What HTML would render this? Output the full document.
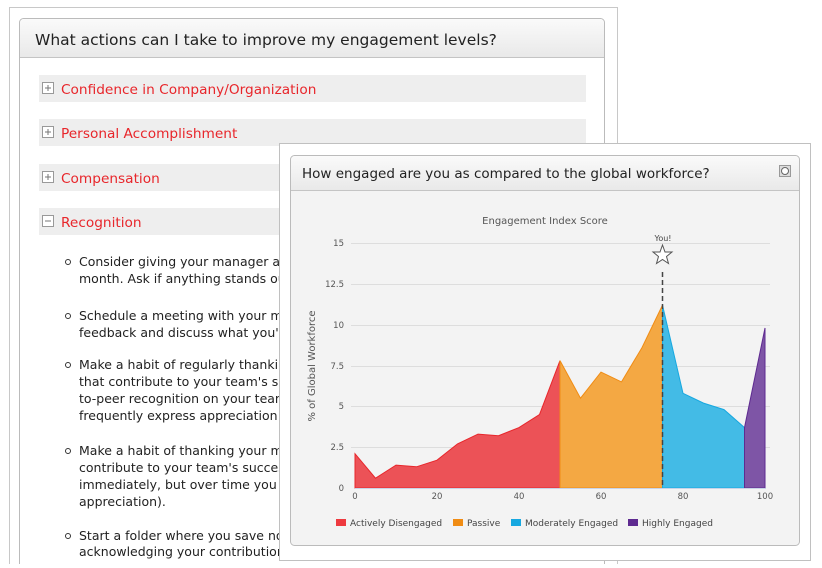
<!DOCTYPE html>
<html><head><meta charset="utf-8"><style>
body{margin:0;width:822px;height:564px;overflow:hidden;background:#fff;font-family:"DejaVu Sans","Liberation Sans",sans-serif;}
</style></head><body>
<svg width="822" height="564" xmlns="http://www.w3.org/2000/svg" font-family="DejaVu Sans, Liberation Sans, sans-serif">
<defs>
<linearGradient id="hg" x1="0" y1="0" x2="0" y2="1"><stop offset="0" stop-color="#fafafa"/><stop offset="1" stop-color="#e9e9e9"/></linearGradient>
</defs>
<!-- back panel -->
<rect x="9.5" y="7.5" width="608" height="560" fill="#fff" stroke="#c8c8c8"/>
<rect x="19.5" y="18.5" width="585" height="560" rx="4" fill="#fff" stroke="#bbb"/>
<path d="M20 57 V23 a4 4 0 0 1 4-4 H600 a4 4 0 0 1 4 4 V57Z" fill="url(#hg)"/>
<line x1="20" y1="57.5" x2="604" y2="57.5" stroke="#c4c4c4"/>
<text x="35" y="45" font-size="15.5" fill="#222">What actions can I take to improve my engagement levels?</text>
<g font-size="13.7" fill="#e8262b">
<rect x="39" y="75" width="547" height="27" fill="#eee"/>
<rect x="39" y="119" width="547" height="27" fill="#eee"/>
<rect x="39" y="164" width="547" height="27" fill="#eee"/>
<rect x="39" y="208" width="547" height="27" fill="#eee"/>
<text x="61" y="94">Confidence in Company/Organization</text>
<text x="61" y="138">Personal Accomplishment</text>
<text x="61" y="183">Compensation</text>
<text x="61" y="227">Recognition</text>
</g>
<g fill="#fff" stroke="#999">
<rect x="42.5" y="82.5" width="11" height="11"/><rect x="42.5" y="126.5" width="11" height="11"/><rect x="42.5" y="171.5" width="11" height="11"/><rect x="42.5" y="215.5" width="11" height="11"/>
</g>
<g stroke="#777"><path d="M45 88h6M48 85v6M45 132h6M48 129v6M45 177h6M48 174v6M45 221h6"/></g>
<g font-size="12.5" fill="#222">
<text x="79" y="266">Consider giving your manager a s</text><text x="79" y="283">month. Ask if anything stands out</text>
<text x="79" y="320">Schedule a meeting with your ma</text><text x="79" y="337">feedback and discuss what you're</text>
<text x="79" y="369">Make a habit of regularly thanking</text><text x="79" y="386">that contribute to your team's suc</text><text x="79" y="403">to-peer recognition on your team</text><text x="79" y="420">frequently express appreciation fo</text>
<text x="79" y="455">Make a habit of thanking your ma</text><text x="79" y="472">contribute to your team's success</text><text x="79" y="489">immediately, but over time you c</text><text x="79" y="506">appreciation).</text>
<text x="79" y="540">Start a folder where you save not</text><text x="79" y="556">acknowledging your contributions</text>
</g>
<g fill="none" stroke="#333"><circle cx="68" cy="262" r="2.5"/><circle cx="68" cy="316" r="2.5"/><circle cx="68" cy="365" r="2.5"/><circle cx="68" cy="451" r="2.5"/><circle cx="68" cy="536" r="2.5"/></g>
<!-- front panel -->
<rect x="279.5" y="143.5" width="531" height="417" fill="#fff" stroke="#c0c0c0"/>
<rect x="290.5" y="155.5" width="509" height="390" rx="4" fill="#f3f3f3" stroke="#bbb"/>
<path d="M291 190 V160 a4 4 0 0 1 4-4 H795 a4 4 0 0 1 4 4 V190Z" fill="url(#hg)"/>
<line x1="291" y1="190.5" x2="799" y2="190.5" stroke="#c4c4c4"/>
<text x="302" y="178" font-size="13.5" fill="#222">How engaged are you as compared to the global workforce?</text>
<rect x="779.5" y="165.5" width="11" height="11" fill="#ddd" stroke="#999"/><circle cx="785" cy="171" r="3.5" fill="#fff" stroke="#666"/>
<text x="545" y="224" font-size="10" fill="#555" text-anchor="middle">Engagement Index Score</text>
<g stroke="#ddd"><path d="M351 243.5H770M351 284.5H770M351 325.5H770M351 366.5H770M351 406.5H770M351 447.5H770"/></g>
<g font-size="8.5" fill="#555" text-anchor="end">
<text x="344" y="246">15</text><text x="344" y="287">12.5</text><text x="344" y="328">10</text><text x="344" y="369">7.5</text><text x="344" y="409">5</text><text x="344" y="450">2.5</text><text x="344" y="491">0</text>
</g>
<g font-size="8.5" fill="#555" text-anchor="middle">
<text x="355" y="499">0</text><text x="437" y="499">20</text><text x="519" y="499">40</text><text x="601" y="499">60</text><text x="683" y="499">80</text><text x="765" y="499">100</text>
</g>
<text transform="translate(315,366) rotate(-90)" font-size="10" fill="#555" text-anchor="middle">% of Global Workforce</text>
<path d="M355 488V453.7L375.5 478.2 396 465.1 416.5 466.8 437 460.2 457.5 443.9 478 434.1 498.5 435.7 519 427.6 539.5 414.5 560 360.6V488Z" fill="#ec5257" stroke="#e8262b" stroke-width="1"/>
<path d="M560 488V360.6L580.5 398.2 601 372.1 621.5 381.9 642 347.6 662.5 305.1V488Z" fill="#f4a843" stroke="#f08c14" stroke-width="1"/>
<path d="M662.5 488V305.1L683 393.3 703.5 403.1 724 409.6 744.5 427.6V488Z" fill="#43bbe6" stroke="#17a8e0" stroke-width="1"/>
<path d="M744.5 488V427.6L765 328V488Z" fill="#7e55a6" stroke="#5e2a90" stroke-width="1"/>
<line x1="355" y1="488.5" x2="766" y2="488.5" stroke="#c8d4e8"/>
<line x1="662.5" y1="272" x2="662.5" y2="488" stroke="#444" stroke-width="1.5" stroke-dasharray="5,3"/>
<text x="663" y="241" font-size="8" fill="#444" text-anchor="middle">You!</text>
<path d="M662.5 245 L665 252 672 252 666.5 256.5 668.5 263.5 662.5 259.5 656.5 263.5 658.5 256.5 653 252 660 252Z" fill="#fff" stroke="#555"/>
<g font-size="9" fill="#444">
<rect x="336" y="519" width="10" height="7" fill="#ee3a3f"/><text x="350" y="526">Actively Disengaged</text>
<rect x="453" y="519" width="10" height="7" fill="#f08c14"/><text x="467" y="526">Passive</text>
<rect x="511" y="519" width="10" height="7" fill="#17a8e0"/><text x="525" y="526">Moderately Engaged</text>
<rect x="628" y="519" width="10" height="7" fill="#5e2a90"/><text x="642" y="526">Highly Engaged</text>
</g>
</svg>
</body></html>
